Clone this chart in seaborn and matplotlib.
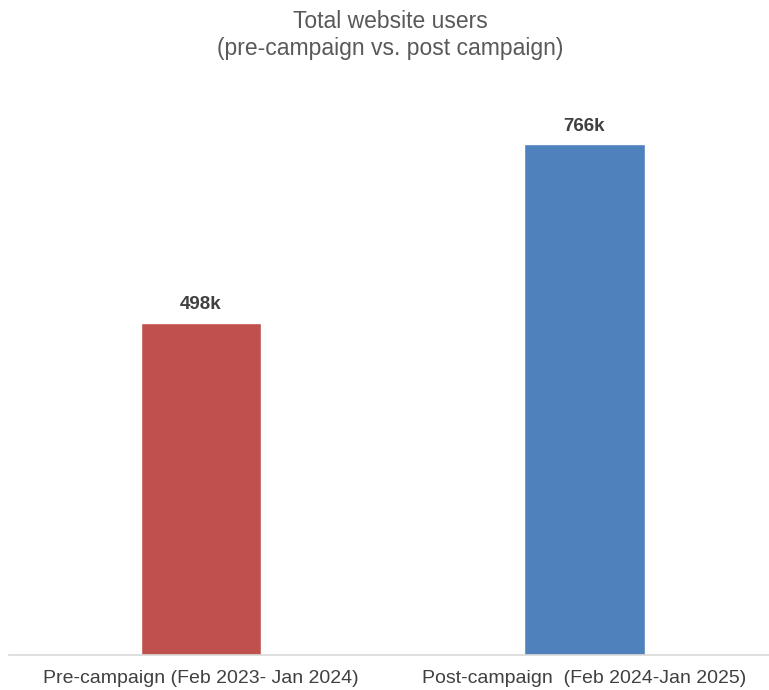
import matplotlib
matplotlib.use("Agg")
import matplotlib.pyplot as plt
import seaborn as sns
import pandas as pd

periods = ["Pre-campaign (Feb 2023- Jan 2024)", "Post-campaign  (Feb 2024-Jan 2025)"]
users_k = [498, 766]
bar_colors = ["#C0504D", "#4F81BD"]

sns.set_theme(style="white")
plt.rcParams["font.family"] = ["Liberation Sans", "DejaVu Sans"]

df = pd.DataFrame({"period": periods, "users": users_k})

fig = plt.figure(figsize=(7.69, 6.90), dpi=100)
W, H = 769, 690
ax = fig.add_axes([9.25 / W, (H - 655) / H, 767 / W, 555 / H])

sns.barplot(data=df, x="period", y="users", hue="period", palette=bar_colors,
            width=0.313, saturation=1, legend=False, ax=ax)

ax.set_xlim(-0.5, 1.5)
ax.set_ylim(0, 832.7)
ax.set_xlabel("")
ax.set_ylabel("")
ax.set_yticks([])
for side in ["top", "right", "left"]:
    ax.spines[side].set_visible(False)
ax.spines["bottom"].set_color("#D9D9D9")
ax.spines["bottom"].set_linewidth(1.2)
ax.tick_params(axis="x", length=0, pad=11, labelsize=14, labelcolor="#404040")

for i, v in enumerate(users_k):
    ax.annotate(f"{v}k", xy=(i, v), xytext=(0, 7), textcoords="offset points",
                ha="center", va="bottom", fontsize=13.5, fontweight="bold",
                color="#404040")

fig.text(390 / W, 1 - 21 / H, "Total website users", ha="center", va="center",
         fontsize=16.5, color="#595959")
fig.text(390 / W, 1 - 48 / H, "(pre-campaign vs. post campaign)", ha="center",
         va="center", fontsize=16.5, color="#595959")

fig.savefig("out.png", dpi=100)
